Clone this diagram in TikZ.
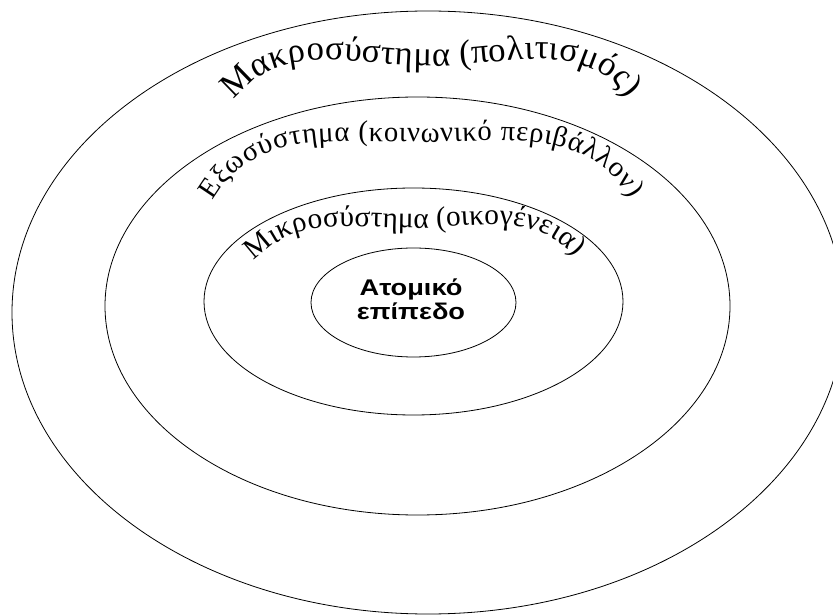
\documentclass[tikz,border=0pt]{standalone}
\usepackage{fontspec}
\setmainfont{Liberation Serif}
\newfontfamily\labelfont[FakeStretch = 1.2]{Liberation Sans}
\usetikzlibrary{shapes.geometric,decorations.text}

\begin{document}
\begin{tikzpicture}[x = 0.75pt, y = 0.75pt,
        ring/.style = {draw, ellipse, inner sep = 0pt, line width = 0.6pt},
        archtext/.style = {decorate, decoration = {text along path, text align = fit to path, text = {#1}}}]
        \useasboundingbox (0,0) rectangle (833,615);
        \clip (0,0) rectangle (833,615);

        % Rings
        \node [ring, minimum width = 624pt, minimum height = 452.25pt] (macro) at (428, 302.5) {};
        \node [ring, minimum width = 468.75pt, minimum height = 313.5pt] (exo) at (417.5, 309) {};
        \node [ring, minimum width = 314.25pt, minimum height = 170.25pt] (micro) at (413.5, 313.5) {};
        \node [ring, minimum width = 153.75pt, minimum height = 81.75pt] (self) at (413.5, 312.5) {};

        % Centre
        \node [font = \labelfont\bfseries\fontsize{17}{18}\selectfont, align = center] (selflabel) at (411, 316) {Ατομικό\\επίπεδο};

        % Arched names
        \path [archtext = {|\fontsize{26}{30}\selectfont|Μακροσύστημα (πολιτισμός)}]
            (234, 515) to [out = 52, in = 180] (430, 549) to [out = 0, in = 128] (628, 517);
        \path [archtext = {|\fontsize{21.5}{26}\selectfont|Εξωσύστημα (κοινωνικό περιβάλλον)}]
            (213, 414) to [out = 60, in = 180] (420, 473) to [out = 0, in = 120] (630, 416);
        \path [archtext = {|\fontsize{22}{26}\selectfont|Μικροσύστημα (οικογένεια)}]
            (254, 354) to [out = 46, in = 180] (414, 387) to [out = 0, in = 132] (575, 358);

\end{tikzpicture}
\end{document}
